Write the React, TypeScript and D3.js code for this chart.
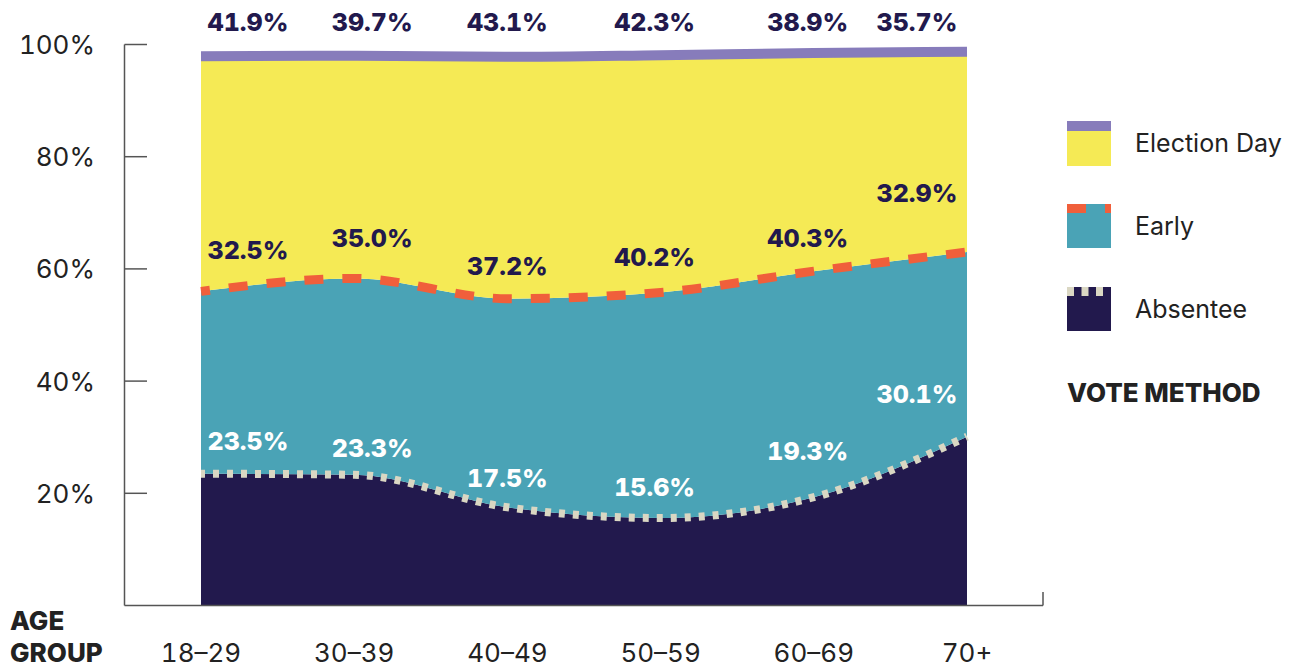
import React from "react";
import * as d3 from "d3";

// Vote method shares (%) by age group
const ageGroups = ["18–29", "30–39", "40–49", "50–59", "60–69", "70+"];
const absentee = [23.5, 23.3, 17.5, 15.6, 19.3, 30.1];
const early = [32.5, 35.0, 37.2, 40.2, 40.3, 32.9];
const electionDay = [41.9, 39.7, 43.1, 42.3, 38.9, 35.7];
const yTicks = [20, 40, 60, 80, 100];

// Hand-placed value label nudges (px)
const labelDx = [47, 18, 0, -6, -6, -50];
const earlyLift = [41, 40, 33, 35, 33, 59];
const absenteeLift = [33, 27, 29, 31, 46, 43];

const W = 1292;
const H = 667;
const FONT = "Inter, 'Noto Sans', sans-serif";
const NAVY = "#22194d";
const TEAL = "#4aa3b6";
const YELLOW = "#f5ea55";
const PURPLE = "#877cbb";
const ORANGE = "#f05f3b";
const BEIGE = "#dad7c3";
const INK = "#222222";

const tnum = { fontVariantNumeric: "tabular-nums" } as React.CSSProperties;

export default function App() {
  const rows = ageGroups.map((g, i) => ({
    group: g,
    absentee: absentee[i],
    early: early[i],
    electionDay: electionDay[i],
  }));
  const keys = ["absentee", "early", "electionDay"];
  const series = d3.stack<any>().keys(keys)(rows);

  const x = d3.scalePoint<string>().domain(ageGroups).range([201, 967]);
  const y = d3.scaleLinear().domain([0, 100]).range([605.5, 44.5]);

  const area = d3
    .area<any>()
    .x((d) => x(d.data.group) as number)
    .y0((d) => y(d[0]))
    .y1((d) => y(d[1]))
    .curve(d3.curveMonotoneX);
  const line = d3
    .line<any>()
    .x((d) => x(d.data.group) as number)
    .y((d) => y(d[1]))
    .curve(d3.curveMonotoneX);

  const fills = [NAVY, TEAL, YELLOW];
  const [sAbs, sEarly, sDay] = series;

  return (
    <svg
      width={W}
      height={H}
      style={{ position: "absolute", left: 0, top: 0, display: "block" }}
      fontFamily={FONT}
    >
      {series.map((s, i) => (
        <path key={s.key} d={area(s) as string} fill={fills[i]} />
      ))}
      <path
        d={line(sAbs) as string}
        fill="none"
        stroke={BEIGE}
        strokeWidth={8}
        strokeDasharray="6 8"
        strokeDashoffset={2}
      />
      <path
        d={line(sEarly) as string}
        fill="none"
        stroke={ORANGE}
        strokeWidth={9}
        strokeDasharray="19 19"
        strokeDashoffset={10}
      />
      <path d={line(sDay) as string} fill="none" stroke={PURPLE} strokeWidth={10} />

      {/* axes */}
      <line x1={124.5} x2={124.5} y1={44.5} y2={605.5} stroke="#555" strokeWidth={1.5} />
      <line x1={124.5} x2={1043} y1={605.5} y2={605.5} stroke="#555" strokeWidth={1.5} />
      <line x1={1043} x2={1043} y1={592} y2={605.5} stroke="#555" strokeWidth={1.5} />
      {yTicks.map((t) => (
        <g key={t}>
          <line x1={124.5} x2={147} y1={y(t)} y2={y(t)} stroke="#555" strokeWidth={1.5} />
          <text
            x={95}
            y={y(t)}
            textAnchor="end"
            dominantBaseline="central"
            fontSize={26}
            fill={INK}
            style={tnum}
          >
            {t}%
          </text>
        </g>
      ))}
      {ageGroups.map((g) => (
        <text
          key={g}
          x={x(g)}
          y={652}
          textAnchor="middle"
          dominantBaseline="central"
          fontSize={26}
          fill={INK}
          style={tnum}
        >
          {g}
        </text>
      ))}
      <text x={10} y={620} dominantBaseline="central" fontSize={26} fontWeight={800} fill={INK}>
        AGE
      </text>
      <text x={10} y={652} dominantBaseline="central" fontSize={26} fontWeight={800} fill={INK}>
        GROUP
      </text>

      {/* value labels */}
      {rows.map((r, i) => {
        const cx = (x(r.group) as number) + labelDx[i];
        return (
          <g
            key={r.group}
            fontSize={25}
            fontWeight={800}
            textAnchor="middle"
            dominantBaseline="central"
            style={tnum}
          >
            <text x={cx} y={22} fill={NAVY}>
              {r.electionDay.toFixed(1)}%
            </text>
            <text x={cx} y={y(sEarly[i][1]) - earlyLift[i]} fill={NAVY}>
              {r.early.toFixed(1)}%
            </text>
            <text x={cx} y={y(sAbs[i][1]) - absenteeLift[i]} fill="#ffffff">
              {r.absentee.toFixed(1)}%
            </text>
          </g>
        );
      })}

      {/* legend */}
      <g>
        <rect x={1067} y={121} width={44} height={45} fill={YELLOW} />
        <rect x={1067} y={121} width={44} height={10} fill={PURPLE} />
        <text x={1135} y={143} dominantBaseline="central" fontSize={25} fill={INK}>
          Election Day
        </text>

        <rect x={1067} y={204} width={44} height={44} fill={TEAL} />
        <rect x={1067} y={204} width={19} height={9} fill={ORANGE} />
        <rect x={1105} y={204} width={6} height={9} fill={ORANGE} />
        <text x={1135} y={226} dominantBaseline="central" fontSize={25} fill={INK}>
          Early
        </text>

        <rect x={1067} y={287} width={44} height={44} fill={NAVY} />
        {[0, 1, 2].map((k) => (
          <rect key={k} x={1067 + k * 14.5} y={287} width={7} height={9} fill={BEIGE} />
        ))}
        <text x={1135} y={309} dominantBaseline="central" fontSize={25} fill={INK}>
          Absentee
        </text>

        <text x={1067} y={392} dominantBaseline="central" fontSize={26} fontWeight={800} fill={INK}>
          VOTE METHOD
        </text>
      </g>
    </svg>
  );
}
